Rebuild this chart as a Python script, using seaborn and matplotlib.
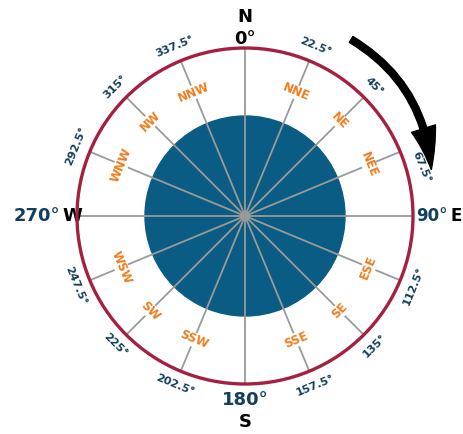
import numpy as np
import pandas as pd
import matplotlib
matplotlib.use("Agg")
import matplotlib.pyplot as plt
import seaborn as sns
from matplotlib.patches import Circle, FancyArrowPatch
from matplotlib.path import Path

# compass data
spoke_bearings = [0, 22.5, 45, 67.5, 90, 112.5, 135, 157.5,
                  180, 202.5, 225, 247.5, 270, 292.5, 315, 337.5]
point_names = ['NNE', 'NE', 'NEE', 'ESE', 'SE', 'SSE',
               'SSW', 'SW', 'WSW', 'WNW', 'NW', 'NNW']
point_bearings = [22.5, 45, 67.5, 112.5, 135, 157.5,
                  202.5, 225, 247.5, 292.5, 315, 337.5]
degree_labels = ['22.5°', '45°', '67.5°', '112.5°', '135°', '157.5°',
                 '202.5°', '225°', '247.5°', '292.5°', '315°', '337.5°']
cardinal_letters = ['N', 'E', 'S', 'W']
cardinal_degrees = ['0°', '90°', '180°', '270°']

ring_r = 168
disc_r = 100
name_r = 134
deg_r = 183
nudge = {67.5: 7}  # the 67.5 label sits a little lower, under the arrow

RED = '#a3203e'
BLUE = '#0b5c84'
NAVY = '#123f5c'
ORANGE = '#f07c1c'


def xy(bearing, r):
    t = np.deg2rad(bearing)
    return r * np.sin(t), r * np.cos(t)


def tangent_rot(bearing):
    rot = -bearing
    while rot < -90:
        rot += 180
    while rot > 90:
        rot -= 180
    return rot


sns.set_theme(style='white')
plt.rcParams['font.family'] = ['DejaVu Sans']
big = dict(fontsize=13, fontweight='bold', va='center')

fig = plt.figure(figsize=(4.64, 4.34), dpi=100)
ax = fig.add_axes([0, 0, 1, 1])
ax.set_xlim(-245, 219)
ax.set_ylim(-218, 216)
ax.set_aspect('equal')
ax.axis('off')

ax.add_patch(Circle((0, 0), disc_r, color=BLUE, zorder=1))

rows = []
for b in spoke_bearings:
    rows.append({'bearing': b, 'x': 0.0, 'y': 0.0})
    ex, ey = xy(b, ring_r)
    rows.append({'bearing': b, 'x': ex, 'y': ey})
spokes = pd.DataFrame(rows)
sns.lineplot(data=spokes, x='x', y='y', units='bearing', estimator=None,
             sort=False, color='#9a9a9a', linewidth=1.3, ax=ax, zorder=2,
             legend=False)
ax.set_xlabel('')
ax.set_ylabel('')
ax.add_patch(Circle((0, 0), 4, color='#9a9a9a', zorder=3))
ax.add_patch(Circle((0, 0), ring_r, fill=False, edgecolor=RED,
                    linewidth=2.4, zorder=4))

for name, b in zip(point_names, point_bearings):
    px, py = xy(b, name_r)
    ax.text(px, py, name, color=ORANGE, fontsize=8.5, fontweight='bold',
            rotation=tangent_rot(b), ha='center', va='center',
            rotation_mode='anchor', zorder=5,
            bbox=dict(boxstyle='square,pad=0.05', fc='white', ec='none'))

for lab, b in zip(degree_labels, point_bearings):
    px, py = xy(b + nudge.get(b, 0), deg_r)
    ax.text(px, py, lab, color=NAVY, fontsize=8, fontweight='bold',
            rotation=tangent_rot(b), ha='center', va='center',
            rotation_mode='anchor', zorder=5)

# cardinal labels
ax.text(0, 199, cardinal_letters[0], color='black', ha='center', **big)
ax.text(0, 177, cardinal_degrees[0], color='black', ha='center', **big)
ax.text(0, -184, cardinal_degrees[2], color=NAVY, ha='center', **big)
ax.text(0, -206, cardinal_letters[2], color='black', ha='center', **big)
ax.text(-185, 0, cardinal_degrees[3], color=NAVY, ha='right', **big)
ax.text(-183, 0, cardinal_letters[3], color='black', ha='left', **big)
big['fontsize'] = 12
ax.text(203, 0, cardinal_degrees[1], color=NAVY, ha='right', **big)
ax.text(205, 0, cardinal_letters[1], color='black', ha='left', **big)

# clockwise arrow
arc_r = 206
a0, a1 = 31, 76
mid = (a0 + a1) / 2
ctrl = xy(mid, arc_r / np.cos(np.deg2rad((a1 - a0) / 2)))
arc = Path([xy(a0, arc_r), ctrl, xy(a1, arc_r - 14)],
           [Path.MOVETO, Path.CURVE3, Path.CURVE3])
ax.add_patch(FancyArrowPatch(
    path=arc, arrowstyle='Simple,tail_width=5,head_width=18,head_length=30',
    mutation_scale=1, color='black', zorder=6))

fig.savefig('out.png', dpi=100, facecolor='white')
